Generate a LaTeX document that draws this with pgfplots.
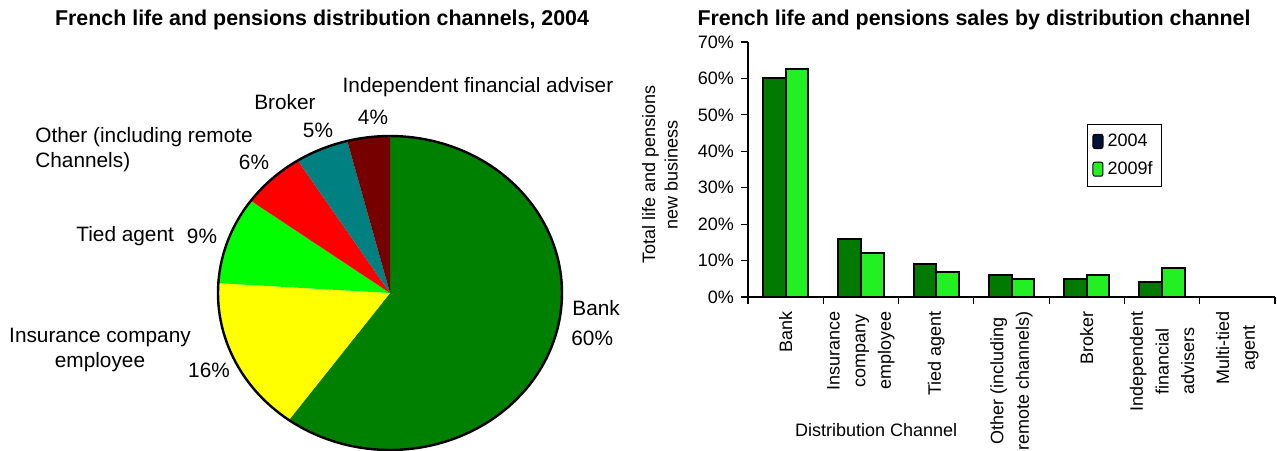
\documentclass[border=0pt]{standalone}
\usepackage{fontspec}
\setmainfont{Liberation Sans}
\usepackage{pgfplots}
\pgfplotsset{compat=1.18}
\definecolor{pieBank}{HTML}{008000}
\definecolor{pieIns}{HTML}{FFFF00}
\definecolor{pieTied}{HTML}{00FF00}
\definecolor{pieOther}{HTML}{FF0000}
\definecolor{pieBroker}{HTML}{008080}
\definecolor{pieIFA}{HTML}{760000}
\definecolor{barA}{HTML}{007A00}
\definecolor{barB}{HTML}{22F022}
\definecolor{legA}{HTML}{001236}
\begin{document}
\begin{tikzpicture}[x=1pt,y=1pt]
\path[use as bounding box] (0,0) rectangle (638.5,225);
% titles
\node[font=\fontsize{10.7}{13}\selectfont\bfseries] at (161,215) {French life and pensions distribution channels, 2004};
\node[font=\fontsize{10.7}{13}\selectfont\bfseries] at (487,215) {French life and pensions sales by distribution channel};
% ---------------- pie (shares in %: 60,16,9,6,5,4; clockwise from 12 o'clock) ----------------
\begin{axis}[at={(109pt,0pt)}, anchor=south west, scale only axis, width=172pt, height=157pt,
  xmin=-1, xmax=1, ymin=-1, ymax=1, hide axis, clip=false]
% Bank 60%
\addplot[fill=pieBank, draw=none, domain=-126:90, samples=91] ({cos(x)},{sin(x)}) -- (0,0) -- cycle;
% Insurance company employee 16%
\addplot[fill=pieIns, draw=none, domain=-183.6:-126, samples=30] ({cos(x)},{sin(x)}) -- (0,0) -- cycle;
% Tied agent 9%
\addplot[fill=pieTied, draw=none, domain=-216:-183.6, samples=20] ({cos(x)},{sin(x)}) -- (0,0) -- cycle;
% Other 6%
\addplot[fill=pieOther, draw=none, domain=-237.6:-216, samples=15] ({cos(x)},{sin(x)}) -- (0,0) -- cycle;
% Broker 5%
\addplot[fill=pieBroker, draw=none, domain=-255.6:-237.6, samples=12] ({cos(x)},{sin(x)}) -- (0,0) -- cycle;
% Independent financial adviser 4%
\addplot[fill=pieIFA, draw=none, domain=-270:-255.6, samples=10] ({cos(x)},{sin(x)}) -- (0,0) -- cycle;
% outline
\addplot[draw=black, line width=1.2pt, domain=0:360, samples=181] ({cos(x)},{sin(x)});
\end{axis}
% pie labels
\begin{scope}[every node/.style={font=\fontsize{10.4}{12.5}\selectfont, inner sep=0pt}]
\node at (239,181.5) {Independent financial adviser};
\node at (186.5,166.5) {4\%};
\node at (142.5,174) {Broker};
\node at (159,160) {5\%};
\node[anchor=west] at (17.5,156.5) {Other (including remote};
\node[anchor=west] at (17.5,144) {Channels)};
\node at (127,144) {6\%};
\node[anchor=west] at (38,107) {Tied agent};
\node at (101,107) {9\%};
\node[align=center] at (50,50) {Insurance company\\employee};
\node at (104.5,40) {16\%};
\node[anchor=west] at (286,71) {Bank};
\node[anchor=west] at (285.5,56) {60\%};
\end{scope}
% ---------------- bar chart ----------------
\begin{axis}[at={(374pt,76.5pt)}, anchor=south west, scale only axis,
  width=263.5pt, height=127.5pt,
  xmin=0.5, xmax=7.5, ymin=0, ymax=70,
  axis x line*=bottom, axis y line*=left,
  axis line style={line width=0.6pt},
  xtick={0.5,1.5,...,7.5}, x tick label as interval,
  xticklabels={{Bank},{Insurance\\company\\employee},{Tied agent},{Other (including\\remote channels)},{Broker},{Independent\\financial\\advisers},{Multi-tied\\agent}},
  xticklabel style={rotate=90, anchor=east, align=center, font=\fontsize{9}{12.8}\selectfont},
  ytick={0,10,...,70},
  yticklabel={\pgfmathprintnumber{\tick}\%},
  yticklabel style={font=\fontsize{9}{11}\selectfont},
  /pgf/number format/assume math mode=true,
  tick align=outside, major tick length=3.5pt, tick style={black, line width=0.6pt},
  ylabel={Total life and pensions\\new business},
  ylabel style={align=center, font=\fontsize{9}{11.25}\selectfont, at={(axis description cs:-0.167,0.48)}, anchor=center},
  xlabel={Distribution Channel},
  xlabel style={font=\fontsize{9}{11}\selectfont, at={(axis description cs:0.243,-0.522)}, anchor=center},
  legend style={at={(0.643,0.678)}, anchor=north west, draw=black, line width=0.5pt,
    font=\fontsize{9}{11}\selectfont, inner sep=2.5pt, row sep=2pt},
  legend cell align=left,
]
% 2004 (Multi-tied agent: 0, no bar)
\addplot[ybar, bar width=0.3, bar shift=-0.15, fill=barA, draw=black, line width=1pt, forget plot]
  coordinates {(1,60) (2,16) (3,9) (4,6) (5,5) (6,4)};
% 2009f (Multi-tied agent: 0, no bar)
\addplot[ybar, bar width=0.3, bar shift=0.15, fill=barB, draw=black, line width=1pt, forget plot]
  coordinates {(1,62.5) (2,12) (3,7) (4,5) (5,6) (6,8)};
\addlegendimage{legend image code/.code={\filldraw[fill=legA, draw=black, line width=0.6pt, rounded corners=1pt] (0pt,-3.5pt) rectangle (5pt,3.5pt);}}
\addlegendentry{2004}
\addlegendimage{legend image code/.code={\fill[fill=barB, rounded corners=1pt] (0pt,-3.5pt) rectangle (5pt,3.5pt);}}
\addlegendentry{2009f}
\end{axis}
\end{tikzpicture}
\end{document}
